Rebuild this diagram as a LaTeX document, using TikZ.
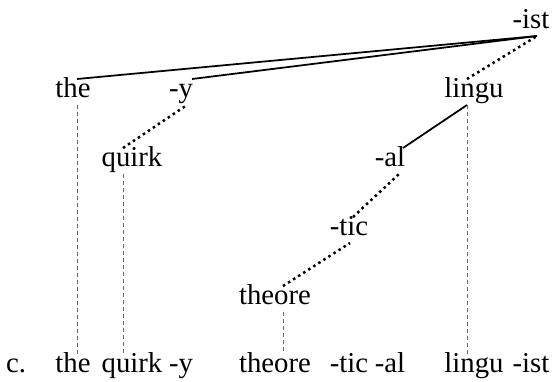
\documentclass[tikz,border=0pt]{standalone}
\usepackage{fontspec}
\setmainfont{Liberation Serif}
\usepackage{tikz}
\usetikzlibrary{calc}

\begin{document}
\begin{tikzpicture}[
  x=0.4pt, y=-0.4pt,
  every node/.style={font=\fontsize{11.5}{14}\selectfont},
  wd/.style={inner sep=0pt, text height=7pt, text depth=3pt, anchor=base},
  solidln/.style={line width=0.7pt},
  dotln/.style={line width=1pt, dash pattern=on 1pt off 1.4pt},
  dashln/.style={line width=0.4pt, dash pattern=on 1.6pt off 1.2pt, gray!80!black},
]
  \useasboundingbox (0,0) rectangle (552,381);

  % Tree nodes, one row per level
  \node[wd] (ist)    at (531,28)  {-ist};
  \node[wd] (theT)   at (73,97)   {the};
  \node[wd] (yT)     at (181,97)  {-y};
  \node[wd] (linguT) at (474,97)  {lingu};
  \node[wd] (quirkT) at (132,166) {quirk};
  \node[wd] (al)     at (390,166) {-al};
  \node[wd] (tic)    at (349,235) {-tic};
  \node[wd] (theoT)  at (275,304) {theore};

  % Linear string at the bottom
  \node[wd] (lbl)    at (16,372)  {c.};
  \node[wd] (theB)   at (73,372)  {the};
  \node[wd] (quirkB) at (132,372) {quirk};
  \node[wd] (yB)     at (181,372) {-y};
  \node[wd] (theoB)  at (275,372) {theore};
  \node[wd] (ticB)   at (349,372) {-tic};
  \node[wd] (alB)    at (390,372) {-al};
  \node[wd] (linguB) at (474,372) {lingu};
  \node[wd] (istB)   at (531,372) {-ist};

  % Solid and dotted branches
  \draw[solidln] ($(theT.north)+(4,0)$) -- ($(ist.south)+(6,0)$);
  \draw[solidln] ($(yT.north)+(11,0)$) -- ($(ist.south)+(6,0)$);
  \draw[dotln] ($(linguT.north)+(-7,0)$) -- ($(ist.south)+(6,0)$);
  \draw[dotln] ($(quirkT.north)+(-9,0)$) -- ($(yT.south)+(6,0)$);
  \draw[solidln] ($(al.north)+(13,0)$) -- ($(linguT.south)+(-7,0)$);
  \draw[dotln] ($(tic.north)+(4,0)$) -- ($(al.south)+(9,0)$);
  \draw[dotln] ($(theoT.north)+(8,0)$) -- ($(tic.south)+(1,0)$);

  % Dashed drops to the string
  \draw[dashln] ($(theT.south)+(4,0)$) -- ($(theB.north)+(4,0)$);
  \draw[dashln] ($(quirkT.south)+(-9,0)$) -- ($(quirkB.north)+(-9,0)$);
  \draw[dashln] ($(theoT.south)+(8,0)$) -- ($(theoB.north)+(8,0)$);
  \draw[dashln] ($(linguT.south)+(-7,0)$) -- ($(linguB.north)+(-7,0)$);
\end{tikzpicture}
\end{document}
